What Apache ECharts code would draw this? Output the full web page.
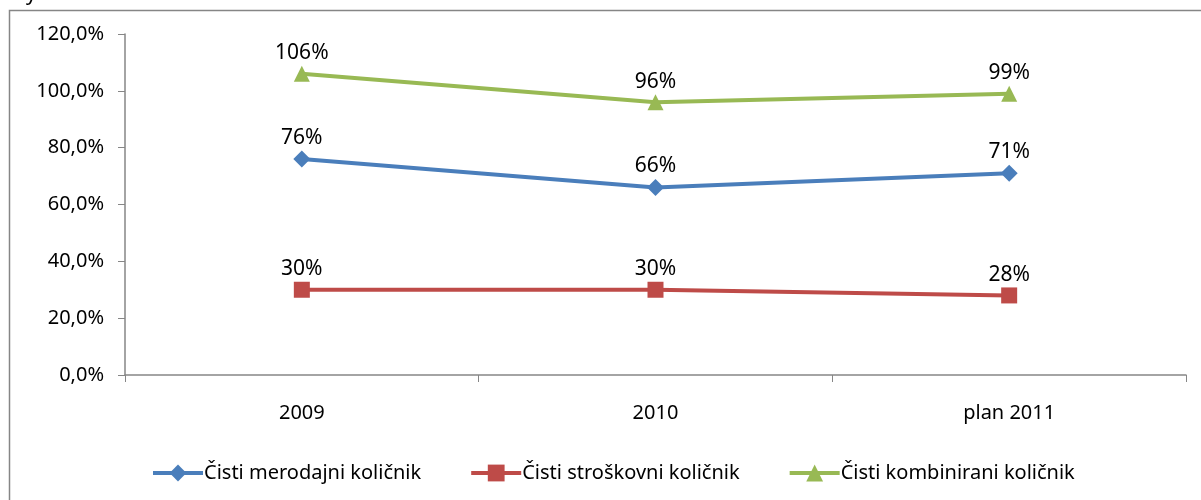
<!DOCTYPE html>
<html>
<head>
<meta charset="utf-8">
<script src="https://cdn.jsdelivr.net/npm/echarts@6/dist/echarts.min.js"></script>
<style>
  html, body { margin: 0; padding: 0; background: #fff; }
  #chart { width: 1201px; height: 500px; }
</style>
</head>
<body>
<div id="chart"></div>
<script>
  var categories = ["2009", "2010", "plan 2011"];
  var merodajni = [76, 66, 71];
  var stroskovni = [30, 30, 28];
  var kombinirani = [106, 96, 99];
  var seriesNames = ["Čisti merodajni količnik", "Čisti stroškovni količnik", "Čisti kombinirani količnik"];

  var font = "Noto Sans";
  var chart = echarts.init(document.getElementById("chart"));

  function line(name, data, color, symbol, size) {
    return {
      name: name,
      type: "line",
      data: data,
      symbol: symbol,
      symbolSize: size,
      lineStyle: {color: color, width: 4},
      itemStyle: {color: color},
      label: {
        show: true,
        position: "top",
        distance: 2,
        color: "#000",
        fontFamily: font,
        fontSize: 21,
        formatter: function (p) { return p.value + "%"; }
      }
    };
  }

  chart.setOption({
    animation: false,
    graphic: [
      {type: "rect", shape: {x: 9.5, y: 10.5, width: 1300, height: 600},
        style: {fill: "none", stroke: "#868686", lineWidth: 1.5}, z: -1},
      {type: "text", left: 26, top: -16, style: {text: "y", fontFamily: font, fontSize: 21, fill: "#000"}}
    ],
    grid: {left: 125, right: 15, top: 34, bottom: 125},
    legend: {
      bottom: 12,
      left: 146,
      itemGap: 48,
      itemWidth: 50,
      itemHeight: 21,
      lineStyle: {width: 4},
      textStyle: {fontFamily: font, fontSize: 20, color: "#000", padding: [0, 0, 0, -4]},
      data: seriesNames
    },
    xAxis: {
      type: "category",
      data: categories,
      boundaryGap: true,
      axisLine: {lineStyle: {color: "#868686", width: 1.5}},
      axisTick: {show: true, inside: false, length: 7, lineStyle: {color: "#868686"}},
      axisLabel: {color: "#000", fontFamily: font, fontSize: 20, margin: 28}
    },
    yAxis: {
      type: "value",
      min: 0,
      max: 120,
      interval: 20,
      splitLine: {show: false},
      axisLine: {show: true, lineStyle: {color: "#868686", width: 1.5}},
      axisTick: {show: true, length: 7, lineStyle: {color: "#868686"}},
      axisLabel: {
        color: "#000", fontFamily: font, fontSize: 20, margin: 21,
        formatter: function (v) { return v.toFixed(1).replace(".", ",") + "%"; }
      }
    },
    series: [
      line(seriesNames[0], merodajni, "#4A7EBB", "diamond", 17),
      line(seriesNames[1], stroskovni, "#BE4B48", "rect", 16),
      line(seriesNames[2], kombinirani, "#98B954", "triangle", 16)
    ]
  });
</script>
</body>
</html>
